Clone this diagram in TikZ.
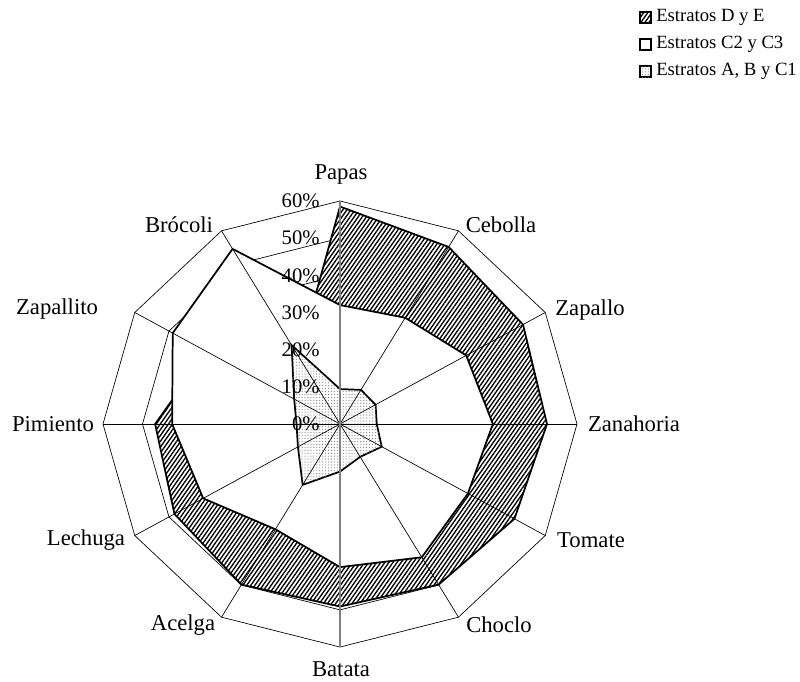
\documentclass[tikz,border=0pt]{standalone}
\usepackage{fontspec}
\setmainfont{Liberation Serif}
\usetikzlibrary{patterns.meta}

\begin{document}
\begin{tikzpicture}[x=0.75pt, y=-0.75pt, font=\fontsize{17}{20}\selectfont]
\tikzstyle{grid}=[draw=black, line width=0.5pt]
\tikzstyle{serie}=[draw=black, line width=1.3pt, line join=miter]
\tikzstyle{rayado}=[serie, fill=white, postaction={pattern={Lines[angle=55,distance=2.5pt,line width=1pt]}}]
\tikzstyle{blanco}=[serie, fill=white]
\tikzstyle{punteado}=[serie, fill=white, postaction={pattern={Dots[distance=2.2pt,radius=0.45pt]}, pattern color=gray}]
\tikzstyle{tick}=[anchor=east, inner sep=0pt, font=\fontsize{15.5}{18}\selectfont]
\tikzstyle{leyenda}=[anchor=west, inner sep=0pt, font=\fontsize{14}{16}\selectfont]

\useasboundingbox (0,0) rectangle (800,682);

\begin{scope}[shift={(340,424)}, x=2.9625pt, y=2.788pt]
% anillos
\foreach \r in {10,20,...,60}
  \draw[grid] (90:\r) \foreach \a in {60,30,...,-240} { -- (\a:\r) } -- cycle;

% series
\draw[rayado] (90:58.5) \foreach \v [count=\i] in {55,53.5,52.4,51,49.9,49.1,49.9,48.4,46.8,39,21} { -- ({90-30*\i}:\v) } -- cycle;
\draw[blanco] (90:32) \foreach \v [count=\i] in {33,36.9,38.7,37.4,41.4,38.5,32.7,40,42.5,48.9,54.4} { -- ({90-30*\i}:\v) } -- cycle;
\draw[punteado] (90:9.4) \foreach \v [count=\i] in {10.6,10.4,9.3,12.2,10.2,12.8,18.9,12.3,11,13.4,24.5} { -- ({90-30*\i}:\v) } -- cycle;

% ejes
\foreach \a in {60,30,-30,-60,-120,-150,150,120}
  \draw[grid] (0,0) -- (\a:60);
\draw[black, line width=0.7pt] (180:60) -- (0:60);
\draw[gray, line width=1.1pt] (-90:60) -- (90:60);

\foreach \r in {0,10,...,60}
  \node[tick] (t\r) at (-5.1,\r) {\r\%};
\end{scope}

% categorias
\node (papas)     at (341,174) {Papas};
\node (cebolla)   at (501,225) {Cebolla};
\node (zapallo)   at (590,310) {Zapallo};
\node (zanahoria) at (634,424) {Zanahoria};
\node (tomate)    at (591,540) {Tomate};
\node (choclo)    at (499,625) {Choclo};
\node (batata)    at (341,669) {Batata};
\node (acelga)    at (183,625) {Acelga};
\node (lechuga)   at (86,540)  {Lechuga};
\node (pimiento)  at (53,424)  {Pimiento};
\node (zapallito) at (57,309)  {Zapallito};
\node (brocoli)   at (179,225) {Brócoli};

% leyenda
\draw[draw=black, line width=0.8pt, fill=white, postaction={pattern={Lines[angle=55,distance=2.5pt,line width=1pt]}}] (640,12) rectangle (651,23);
\draw[draw=black, line width=0.8pt, fill=white] (640,39) rectangle (651,50);
\draw[draw=black, line width=0.8pt, fill=white, postaction={pattern={Dots[distance=2.2pt,radius=0.45pt]}, pattern color=gray}] (640,66) rectangle (651,77);
\node[leyenda] (l1) at (656,17) {Estratos D y E};
\node[leyenda] (l2) at (656,44.5) {Estratos C2 y C3};
\node[leyenda] (l3) at (656,71.5) {Estratos A, B y C1};

\end{tikzpicture}
\end{document}
